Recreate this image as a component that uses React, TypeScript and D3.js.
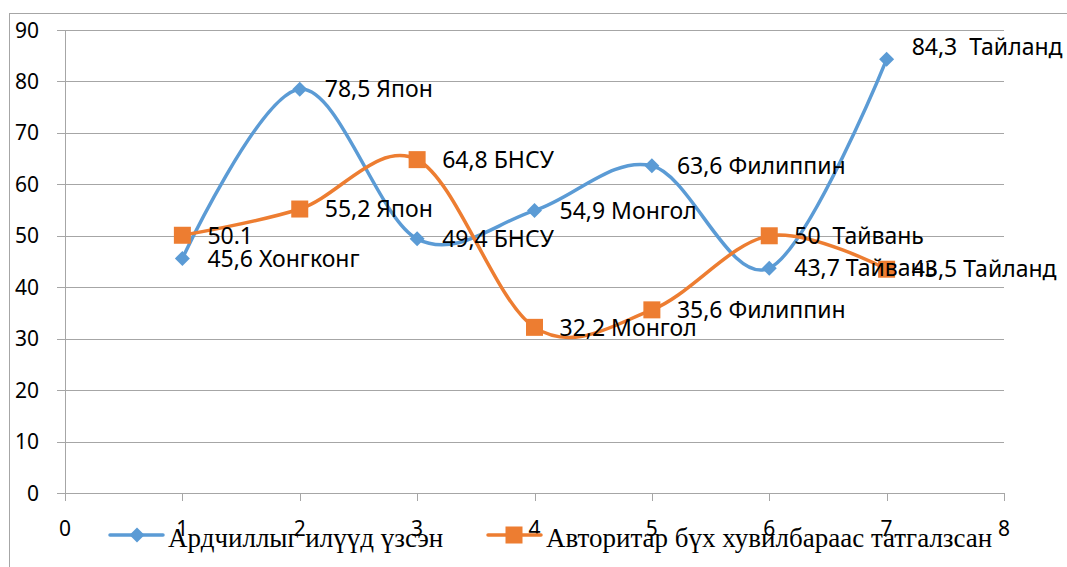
import React from "react";
import * as d3 from "d3";

const xs = [1, 2, 3, 4, 5, 6, 7];
const democracyValues = [45.6, 78.5, 49.4, 54.9, 63.6, 43.7, 84.3];
const democracyLabels = ["45,6 Хонгконг", "78,5 Япон", "49,4 БНСУ", "54,9 Монгол", "63,6 Филиппин", "43,7 Тайвань", "84,3  Тайланд"];
const authoritarianValues = [50.1, 55.2, 64.8, 32.2, 35.6, 50, 43.5];
const authoritarianLabels = ["50.1", "55,2 Япон", "64,8 БНСУ", "32,2 Монгол", "35,6 Филиппин", "50  Тайвань", "43,5 Тайланд"];
const seriesNames = ["Ардчиллыг илүүд үзсэн", "Авторитар бүх хувилбараас татгалзсан"];
const xTicks = [0, 1, 2, 3, 4, 5, 6, 7, 8];
const yTicks = [0, 10, 20, 30, 40, 50, 60, 70, 80, 90];

// layout-only label nudges (px)
const democracyLabelDy = [0, 0, 0, 0, 0, 0, -13];

const W = 1067, H = 567;
const BLUE = "#5B9BD5", ORANGE = "#ED7D31", GRID = "#A6A6A6";
const SANS = "'Noto Sans', 'Open Sans', sans-serif";
const SERIF = "'Liberation Serif', 'DejaVu Serif', serif";

export default function App() {
  const x = d3.scaleLinear().domain([0, 8]).range([65, 1004]);
  const y = d3.scaleLinear().domain([0, 90]).range([493, 30]);
  const line = d3.line<number>()
    .x((_, i) => x(xs[i]))
    .y((d) => y(d))
    .curve(d3.curveCardinal.tension(0));

  const diamond = (cx: number, cy: number, r: number) =>
    `M${cx},${cy - r}L${cx + r},${cy}L${cx},${cy + r}L${cx - r},${cy}Z`;

  const pre = { whiteSpace: "pre" as const };

  return (
    <div style={{ position: "fixed", left: 0, top: 0 }}>
      <svg width={W} height={H} style={{ display: "block", background: "#fff" }}>
        <rect x={9.5} y={13.5} width={1200} height={700} fill="none" stroke={GRID} strokeWidth={1} />
        {yTicks.map((t) => (
          <line key={"g" + t} x1={57} x2={x(8)} y1={Math.round(y(t)) + 0.5} y2={Math.round(y(t)) + 0.5} stroke={GRID} strokeWidth={1} />
        ))}
        <line x1={Math.round(x(0)) + 0.5} x2={Math.round(x(0)) + 0.5} y1={y(90)} y2={y(0)} stroke={GRID} />
        {xTicks.map((t) => (
          <line key={"xt" + t} x1={Math.round(x(t)) + 0.5} x2={Math.round(x(t)) + 0.5} y1={y(0)} y2={y(0) + 8} stroke={GRID} />
        ))}
        {yTicks.map((t) => (
          <text key={"yl" + t} x={39} y={y(t)} dy="0.36em" textAnchor="end" fontFamily={SANS} fontSize={21} fill="#000">{t}</text>
        ))}
        {xTicks.map((t) => (
          <text key={"xl" + t} x={x(t)} y={536} textAnchor="middle" fontFamily={SANS} fontSize={21} fill="#000">{t}</text>
        ))}
        <path d={line(democracyValues) || ""} fill="none" stroke={BLUE} strokeWidth={3.5} strokeLinecap="round" />
        <path d={line(authoritarianValues) || ""} fill="none" stroke={ORANGE} strokeWidth={3.5} strokeLinecap="round" />
        {democracyValues.map((v, i) => (
          <path key={"dm" + i} d={diamond(x(xs[i]), y(v), 7.5)} fill={BLUE} />
        ))}
        {authoritarianValues.map((v, i) => (
          <rect key={"am" + i} x={x(xs[i]) - 8.5} y={y(v) - 8.5} width={17} height={17} fill={ORANGE} />
        ))}
        {democracyValues.map((v, i) => (
          <text key={"dl" + i} x={x(xs[i]) + 25} y={y(v) + democracyLabelDy[i]} dy="0.36em" fontFamily={SANS} fontSize={23} fill="#000" style={pre}>{democracyLabels[i]}</text>
        ))}
        {authoritarianValues.map((v, i) => (
          <text key={"al" + i} x={x(xs[i]) + 25} y={y(v)} dy="0.36em" fontFamily={SANS} fontSize={23} fill="#000" style={pre}>{authoritarianLabels[i]}</text>
        ))}
        <line x1={110} x2={163} y1={535} y2={535} stroke={BLUE} strokeWidth={3.5} strokeLinecap="round" />
        <path d={diamond(137, 535, 7.5)} fill={BLUE} />
        <text x={168} y={547} fontFamily={SERIF} fontSize={27} fill="#000">{seriesNames[0]}</text>
        <line x1={488} x2={541} y1={535} y2={535} stroke={ORANGE} strokeWidth={3.5} strokeLinecap="round" />
        <rect x={514 - 8.5} y={535 - 8.5} width={17} height={17} fill={ORANGE} />
        <text x={546} y={547} fontFamily={SERIF} fontSize={27} fill="#000">{seriesNames[1]}</text>
      </svg>
    </div>
  );
}
